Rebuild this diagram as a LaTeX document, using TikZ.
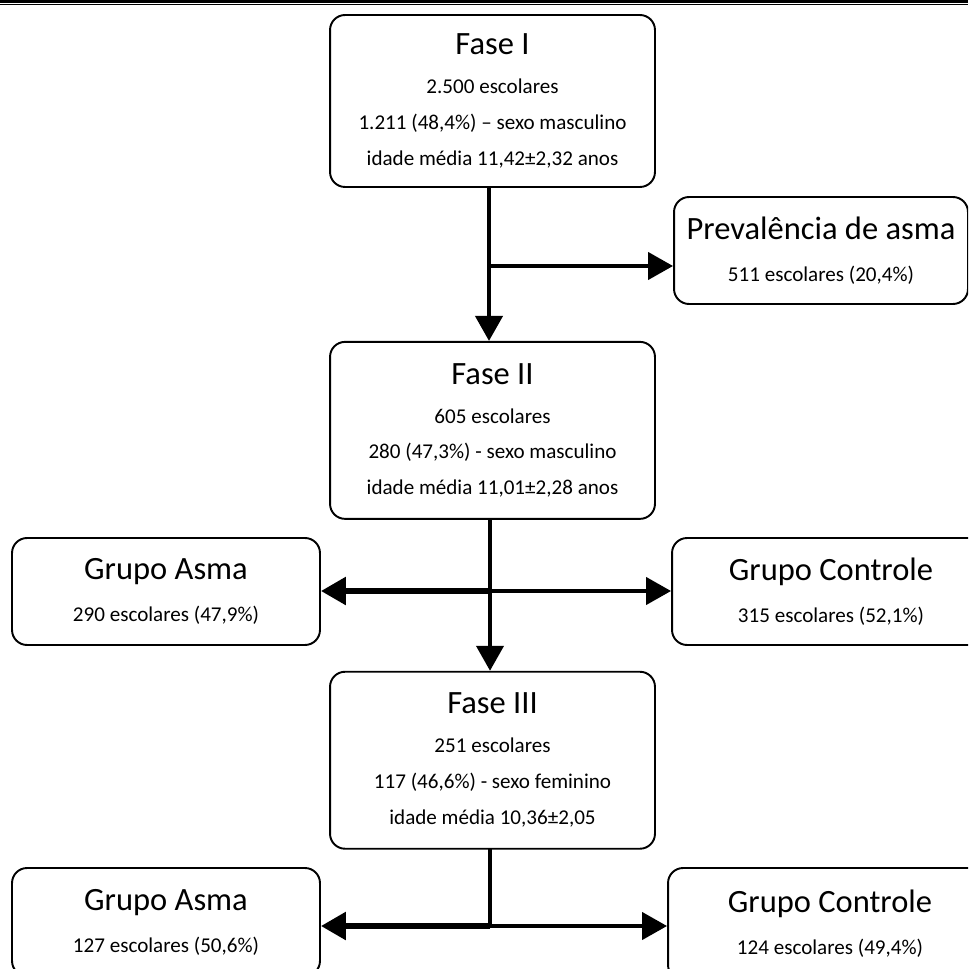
\documentclass[tikz,border=0pt]{standalone}
\usepackage{fontspec}
\setmainfont{Carlito}
\usetikzlibrary{arrows.meta,positioning}
\newcommand\boxtitle[1]{{\fontsize{18.5}{22}\selectfont #1}}

\begin{document}
\begin{tikzpicture}[x=0.02cm, y=-0.02cm, node distance = 3cm]
  \useasboundingbox (0,0) rectangle (968,969);
  \clip (0,0) rectangle (968,969);
  \tikzset{PhaseStyle/.style = {draw,
                                rounded corners = 0.3cm,
                                line width      = 1.1pt,
                                align           = center,
                                font            = \fontsize{12}{20.4}\selectfont,
                                inner sep       = 0pt,
                                minimum width   = 6.5cm}}
  \tikzset{GroupStyle/.style = {PhaseStyle,
                                font            = \fontsize{12}{24}\selectfont,
                                minimum height  = 2.14cm}}
  \tikzset{FlowStyle/.style  = {line width      = 2.4pt,
                                -{Triangle[length=0.5cm, width=0.54cm]}}}
  \tikzset{StemStyle/.style  = {line width      = 2.4pt,
                                line cap        = rect}}
     % rules at the top of the page
     \draw[line width=1.4pt] (0,1.5) -- (968,1.5);
     \draw[line width=0.8pt] (0,4.6) -- (968,4.6);

     \node[PhaseStyle, minimum height=3.44cm] (fase1) at (492.5,101)
       {\boxtitle{Fase I}\\[1.8pt] 2.500 escolares\\ 1.211 (48,4\%) -- sexo masculino\\ idade média 11,42±2,32 anos};
     \node[PhaseStyle, minimum height=3.54cm, below=3.06cm of fase1] (fase2)
       {\boxtitle{Fase II}\\[1.8pt] 605 escolares\\ 280 (47,3\%) - sexo masculino\\ idade média 11,01±2,28 anos};
     \node[PhaseStyle, minimum height=3.54cm, below=3.02cm of fase2] (fase3)
       {\boxtitle{Fase III}\\[1.8pt] 251 escolares\\ 117 (46,6\%) - sexo feminino\\ idade média 10,36±2,05};

     \node[GroupStyle, minimum width=5.88cm] (prev) at (821,250.5)
       {\boxtitle{Prevalência de asma}\\ 511 escolares (20,4\%)};
     \node[GroupStyle, minimum width=6.16cm] (asma1) at (166,591.5)
       {\boxtitle{Grupo Asma}\\ 290 escolares (47,9\%)};
     \node[GroupStyle, minimum width=6.36cm] (ctrl1) at (831,591.5)
       {\boxtitle{Grupo Controle}\\ 315 escolares (52,1\%)};
     \node[GroupStyle, minimum width=6.16cm, minimum height=2.16cm] (asma2) at (166,922)
       {\boxtitle{Grupo Asma}\\ 127 escolares (50,6\%)};
     \node[GroupStyle, minimum width=6.48cm, minimum height=2.24cm] (ctrl2) at (830,924)
       {\boxtitle{Grupo Controle}\\ 124 escolares (49,4\%)};

     \coordinate (j1) at (489,266);
     \coordinate (j2) at (490,591);
     \coordinate (j3) at (490,926);

     \draw[FlowStyle] (fase1.south -| j1) -- (fase2.north -| j1);
     \draw[FlowStyle] (j1) -- (prev.west |- j1);

     \draw[FlowStyle] (fase2.south -| j2) -- (fase3.north -| j2);
     \draw[FlowStyle, line width=3.2pt] (j2) -- (asma1.east |- j2);
     \draw[FlowStyle] (j2) -- (ctrl1.west |- j2);

     \draw[StemStyle] (fase3.south -| j3) -- (j3);
     \draw[FlowStyle, line width=3.2pt] (j3) -- (asma2.east |- j3);
     \draw[FlowStyle] (j3) -- (ctrl2.west |- j3);
  \end{tikzpicture}
\end{document}
